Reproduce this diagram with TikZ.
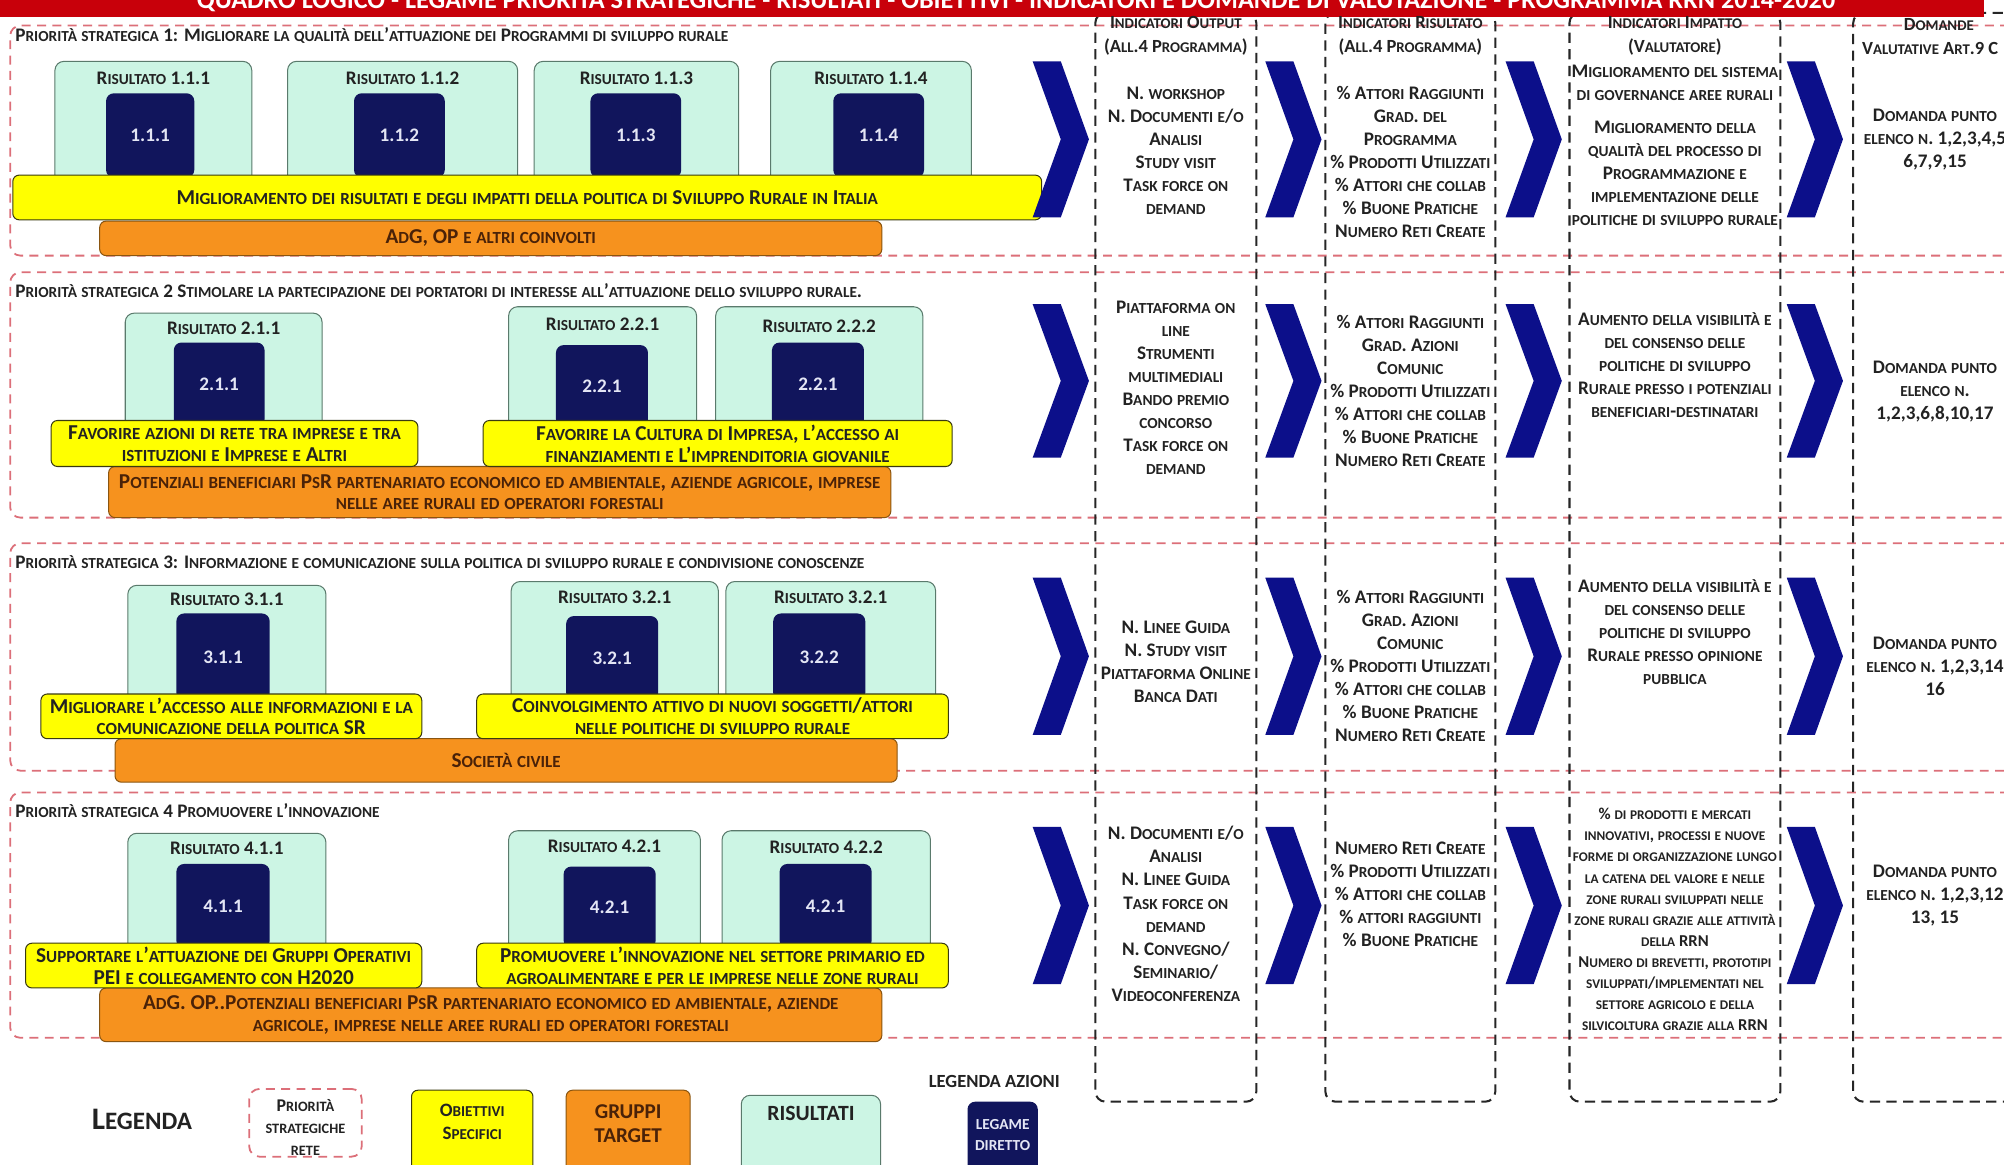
\documentclass[tikz,border=0pt]{standalone}
\usepackage{fontspec}
\setmainfont{Carlito}
\usetikzlibrary{calc}

% synthetic small capitals: capitals stay full size, lowercase letters
% are set as reduced capitals
\ExplSyntaxOn
\seq_new:N \l__fsc_words_seq
\bool_new:N \l__fsc_sep_bool
\cs_new_protected:Npn \__fsc_small:
  { \fontsize { \fp_eval:n { 0.8 * \use:c { f@size } } } { 0 } \selectfont }
\cs_new_protected:Npn \__fsc_char:N #1
  {
    \bool_lazy_or:nnTF
      { \int_compare_p:nNn { \char_value_uccode:n { `#1 } } = { 0 } }
      { \int_compare_p:nNn { \char_value_uccode:n { `#1 } } = { `#1 } }
      { #1 }
      { { \__fsc_small: \uppercase { #1 } } }
  }
\NewDocumentCommand \fsc { m }
  {
    \seq_set_split:Nnn \l__fsc_words_seq { ~ } { #1 }
    \bool_set_false:N \l__fsc_sep_bool
    \seq_map_inline:Nn \l__fsc_words_seq
      {
        \bool_if:NT \l__fsc_sep_bool { \c_space_tl }
        \bool_set_true:N \l__fsc_sep_bool
        \tl_map_function:nN { ##1 } \__fsc_char:N
      }
  }
\ExplSyntaxOff

\definecolor{bannerred}{HTML}{C8000A}
\definecolor{prioline}{HTML}{DC6F79}
\definecolor{mint}{HTML}{CCF5E4}
\definecolor{mintline}{HTML}{5A7A6C}
\definecolor{navybox}{HTML}{11155C}
\definecolor{chevblue}{HTML}{0C0F8A}
\definecolor{yel}{HTML}{FFFF00}
\definecolor{yelline}{HTML}{3A3A10}
\definecolor{org}{HTML}{F6921E}
\definecolor{orgline}{HTML}{8A5510}
\definecolor{ink}{HTML}{222222}
\definecolor{numwhite}{HTML}{E4E6F5}
\definecolor{tgtink}{HTML}{4A2208}

% rectangular node given by its corners (x1,y1) (x2,y2)
\newcommand\blk[7]{%
  \node[#1, anchor=north west, minimum width={#5pt-#3pt},
        minimum height={#6pt-#4pt}] (#2) at (#3,#4) {#7};}
% arrow chevron between columns
\newcommand\chev[3]{%
  \fill[chevblue] (#1,#2) -- ({#1+22},#2) -- ({#1+44},{(#2+#3)/2})
    -- ({#1+22},#3) -- (#1,#3) -- ({#1+22},{(#2+#3)/2}) -- cycle;}

\tikzset{
  txtbase/.style={inner sep=0pt, outer sep=0pt, text=ink, align=center,
    font=\bfseries\fontsize{15}{18}\selectfont},
  prio/.style={draw=prioline, dash pattern=on 7pt off 5pt, line width=1.4pt,
    rounded corners=8pt, inner sep=0pt, outer sep=0pt},
  colbox/.style={draw=black!85, dash pattern=on 8pt off 5pt, line width=1.6pt,
    rounded corners=8pt, inner sep=0pt, outer sep=0pt},
  res/.style={draw=mintline, fill=mint, line width=0.8pt, rounded corners=7pt,
    inner sep=0pt, outer sep=0pt},
  act/.style={txtbase, fill=navybox, rounded corners=6pt, text=numwhite},
  barfont/.style={font=\bfseries\fontsize{16.6}{17}\selectfont},
  obj/.style={txtbase, draw=yelline, fill=yel, line width=0.8pt,
    rounded corners=5pt, barfont},
  tgt/.style={txtbase, draw=orgline, fill=org, line width=0.8pt,
    rounded corners=5pt, text=tgtink, barfont},
  ptitle/.style={txtbase, anchor=west, font=\bfseries\fontsize{15}{17}\selectfont},
  reslbl/.style={txtbase, font=\bfseries\fontsize{15}{18}\selectfont},
  coltxt/.style={txtbase},
  hdrtxt/.style={txtbase, font=\bfseries\fontsize{14.5}{19}\selectfont},
  smalltxt/.style={txtbase, font=\bfseries\fontsize{13}{16.5}\selectfont},
}

\begin{document}
\begin{tikzpicture}[x=1pt,y=-1pt]
\useasboundingbox (0,0) rectangle (1568,911);
\clip (0,0) rectangle (1568,911);
\fill[white] (0,0) rectangle (1568,911);

% strategic priority frames
\blk{prio}{p1}{8}{20}{1640}{200}{}
\blk{prio}{p2}{8}{213}{1640}{405}{}
\blk{prio}{p3}{8}{425}{1640}{603}{}
\blk{prio}{p4}{8}{620}{1640}{812}{}

% indicator columns
\blk{colbox}{c1}{857}{10}{983}{862}{}
\blk{colbox}{c2}{1037}{10}{1170}{862}{}
\blk{colbox}{c3}{1228}{10}{1393}{862}{}
\blk{colbox}{c4}{1450}{10}{1640}{862}{}

% title banner
\fill[bannerred] (0,0) rectangle (1552,13);
\node[txtbase, text=white, anchor=base, font=\bfseries\fontsize{20.5}{24}\selectfont]
  (banner) at (795,7)
  {\fsc{QUADRO LOGICO - LEGAME PRIORITÀ STRATEGICHE - RISULTATI - OBIETTIVI - INDICATORI E DOMANDE DI VALUTAZIONE - PROGRAMMA RRN 2014-2020}};

% column headers
\node[hdrtxt] (h1) at (920,28)
  {\fsc{Indicatori Output}\\\fsc{(All.4 Programma)}};
\node[hdrtxt] (h2) at (1103.5,28)
  {\fsc{Indicatori Risultato}\\\fsc{(All.4 Programma)}};
\node[hdrtxt] (h3) at (1310.5,28)
  {\fsc{Indicatori Impatto}\\\fsc{(Valutatore)}};
\node[hdrtxt] (h4a) at (1517,19)
  {\fsc{Domande}};
\node[hdrtxt, anchor=west] (h4b) at (1457,38)
  {\fsc{Valutative Art.9 C}};

% ---------------- priority 1
\node[ptitle] (p1t) at (12,28)
  {\fsc{Priorità strategica 1: Migliorare la qualità dell'attuazione dei Programmi di sviluppo rurale}};
\blk{res}{r111}{43}{48}{197}{145}{}
\blk{res}{r112}{225}{48}{405}{145}{}
\blk{res}{r113}{418}{48}{578}{145}{}
\blk{res}{r114}{603}{48}{760}{145}{}
\node[reslbl] (r111l) at (120,61) {\fsc{Risultato 1.1.1}};
\node[reslbl] (r112l) at (315,61) {\fsc{Risultato 1.1.2}};
\node[reslbl] (r113l) at (498,61) {\fsc{Risultato 1.1.3}};
\node[reslbl] (r114l) at (681.5,61) {\fsc{Risultato 1.1.4}};
\blk{act}{a111}{83}{73}{152}{139}{1.1.1}
\blk{act}{a112}{277}{73}{348}{139}{1.1.2}
\blk{act}{a113}{462}{73}{533}{139}{1.1.3}
\blk{act}{a114}{652}{73}{723}{139}{1.1.4}
\blk{tgt}{t1}{78}{173}{690}{200}{\fsc{AdG, OP e altri coinvolti}}
\blk{obj}{o1}{10}{137}{815}{172}
  {\fsc{Miglioramento dei risultati e degli impatti della politica di Sviluppo Rurale in Italia}}

% ---------------- priority 2
\node[ptitle] (p2t) at (12,227)
  {\fsc{Priorità strategica 2 Stimolare la partecipazione dei portatori di interesse all'attuazione dello sviluppo rurale.}};
\blk{res}{r211}{98}{245}{252}{338}{}
\blk{res}{r221}{398}{240}{545}{338}{}
\blk{res}{r222}{560}{240}{722}{338}{}
\node[reslbl] (r211l) at (175,257) {\fsc{Risultato 2.1.1}};
\node[reslbl] (r221l) at (471.5,254) {\fsc{Risultato 2.2.1}};
\node[reslbl] (r222l) at (641,255) {\fsc{Risultato 2.2.2}};
\blk{act}{a211}{136}{268}{207}{334}{2.1.1}
\blk{act}{a221}{435}{270}{507}{334}{2.2.1}
\blk{act}{a222}{604}{268}{676}{334}{2.2.1}
\blk{tgt}{t2}{85}{365}{697}{405}
  {\fsc{Potenziali beneficiari PsR partenariato economico ed ambientale, aziende agricole, imprese}\\\fsc{nelle aree rurali ed operatori forestali}}
\blk{obj}{o21}{40}{329}{327}{365}
  {\fsc{Favorire azioni di rete tra imprese e tra}\\\fsc{istituzioni e Imprese e Altri}}
\blk{obj}{o22}{378}{329}{745}{365}
  {\fsc{Favorire la Cultura di Impresa, l'accesso ai}\\\fsc{finanziamenti e L'imprenditoria giovanile}}

% ---------------- priority 3
\node[ptitle] (p3t) at (12,440)
  {\fsc{Priorità strategica 3: Informazione e comunicazione sulla politica di sviluppo rurale e condivisione conoscenze}};
\blk{res}{r311}{100}{458}{255}{550}{}
\blk{res}{r321}{400}{455}{562}{550}{}
\blk{res}{r322}{568}{455}{732}{550}{}
\node[reslbl] (r311l) at (177.5,469) {\fsc{Risultato 3.1.1}};
\node[reslbl] (r321l) at (481,467) {\fsc{Risultato 3.2.1}};
\node[reslbl] (r322l) at (650,467) {\fsc{Risultato 3.2.1}};
\blk{act}{a311}{138}{480}{211}{548}{3.1.1}
\blk{act}{a321}{443}{482}{515}{548}{3.2.1}
\blk{act}{a322}{605}{480}{677}{548}{3.2.2}
\blk{tgt}{t3}{90}{578}{702}{612}{\fsc{Società civile}}
\blk{obj}{o31}{32}{543}{330}{578}
  {\fsc{Migliorare l'accesso alle informazioni e la}\\\fsc{comunicazione della politica SR}}
\blk{obj}{o32}{373}{543}{742}{578}
  {\fsc{Coinvolgimento attivo di nuovi soggetti/attori}\\\fsc{nelle politiche di sviluppo rurale}}

% ---------------- priority 4
\node[ptitle] (p4t) at (12,634)
  {\fsc{Priorità strategica 4 Promuovere l'innovazione}};
\blk{res}{r411}{100}{652}{255}{745}{}
\blk{res}{r421}{398}{650}{548}{745}{}
\blk{res}{r422}{565}{650}{728}{745}{}
\node[reslbl] (r411l) at (177.5,664) {\fsc{Risultato 4.1.1}};
\node[reslbl] (r421l) at (473,662) {\fsc{Risultato 4.2.1}};
\node[reslbl] (r422l) at (646.5,663) {\fsc{Risultato 4.2.2}};
\blk{act}{a411}{138}{676}{211}{742}{4.1.1}
\blk{act}{a421}{441}{678}{513}{742}{4.2.1}
\blk{act}{a422}{610}{676}{682}{742}{4.2.1}
\blk{tgt}{t4}{78}{773}{690}{815}
  {\fsc{AdG. OP..Potenziali beneficiari PsR partenariato economico ed ambientale, aziende}\\\fsc{agricole, imprese nelle aree rurali ed operatori forestali}}
\blk{obj}{o41}{20}{738}{330}{773}
  {\fsc{Supportare l'attuazione dei Gruppi Operativi}\\\fsc{PEI e collegamento con H2020}}
\blk{obj}{o42}{373}{738}{742}{773}
  {\fsc{Promuovere l'innovazione nel settore primario ed}\\\fsc{agroalimentare e per le imprese nelle zone rurali}}

% chevrons
\foreach \cx in {808,990,1178,1398}{
  \chev{\cx}{48}{170}
  \chev{\cx}{238}{358}
  \chev{\cx}{452}{575}
  \chev{\cx}{647}{770}
}

% ---------------- indicator texts, row 1
\node[coltxt] (out1) at (920,118)
  {\fsc{N. workshop}\\\fsc{N. Documenti e/o}\\\fsc{Analisi}\\\fsc{Study visit}\\\fsc{Task force on}\\\fsc{demand}};
\node[coltxt] (ris1) at (1103.5,127)
  {\fsc{\% Attori Raggiunti}\\\fsc{Grad. del}\\\fsc{Programma}\\\fsc{\% Prodotti Utilizzati}\\\fsc{\% Attori che collab}\\\fsc{\% Buone Pratiche}\\\fsc{Numero Reti Create}};
\node[coltxt] (imp1) at (1310.5,114)
  {\fsc{Miglioramento del sistema}\\\fsc{di governance aree rurali}\\[8pt]\fsc{Miglioramento della}\\\fsc{qualità del processo di}\\\fsc{Programmazione e}\\\fsc{implementazione delle}\\\fsc{politiche di sviluppo rurale}};
\node[coltxt] (dom1) at (1514,109)
  {\fsc{Domanda punto}\\\fsc{elenco n. 1,2,3,4,5}\\\fsc{6,7,9,15}};

% row 2
\node[coltxt] (out2) at (920,303.5)
  {\fsc{Piattaforma on}\\\fsc{line}\\\fsc{Strumenti}\\\fsc{multimediali}\\\fsc{Bando premio}\\\fsc{concorso}\\\fsc{Task force on}\\\fsc{demand}};
\node[coltxt] (ris2) at (1103.5,306)
  {\fsc{\% Attori Raggiunti}\\\fsc{Grad. Azioni}\\\fsc{Comunic}\\\fsc{\% Prodotti Utilizzati}\\\fsc{\% Attori che collab}\\\fsc{\% Buone Pratiche}\\\fsc{Numero Reti Create}};
\node[coltxt] (imp2) at (1310.5,285.5)
  {\fsc{Aumento della visibilità e}\\\fsc{del consenso delle}\\\fsc{politiche di sviluppo}\\\fsc{Rurale presso i potenziali}\\\fsc{beneficiari-destinatari}};
\node[coltxt] (dom2) at (1514,306)
  {\fsc{Domanda punto}\\\fsc{elenco n.}\\\fsc{1,2,3,6,8,10,17}};

% row 3
\node[coltxt] (out3) at (920,518)
  {\fsc{N. Linee Guida}\\\fsc{N. Study visit}\\\fsc{Piattaforma Online}\\\fsc{Banca Dati}};
\node[coltxt] (ris3) at (1103.5,521)
  {\fsc{\% Attori Raggiunti}\\\fsc{Grad. Azioni}\\\fsc{Comunic}\\\fsc{\% Prodotti Utilizzati}\\\fsc{\% Attori che collab}\\\fsc{\% Buone Pratiche}\\\fsc{Numero Reti Create}};
\node[coltxt] (imp3) at (1310.5,494.5)
  {\fsc{Aumento della visibilità e}\\\fsc{del consenso delle}\\\fsc{politiche di sviluppo}\\\fsc{Rurale presso opinione}\\\fsc{pubblica}};
\node[coltxt] (dom3) at (1514,521)
  {\fsc{Domanda punto}\\\fsc{elenco n. 1,2,3,14}\\\fsc{16}};

% row 4
\node[coltxt] (out4) at (920,715)
  {\fsc{N. Documenti e/o}\\\fsc{Analisi}\\\fsc{N. Linee Guida}\\\fsc{Task force on}\\\fsc{demand}\\\fsc{N. Convegno/}\\\fsc{Seminario/}\\\fsc{Videoconferenza}};
\node[coltxt] (ris4) at (1103.5,699.5)
  {\fsc{Numero Reti Create}\\\fsc{\% Prodotti Utilizzati}\\\fsc{\% Attori che collab}\\\fsc{\% attori raggiunti}\\\fsc{\% Buone Pratiche}};
\node[smalltxt] (imp4) at (1310.5,719.5)
  {\fsc{\% di prodotti e mercati}\\\fsc{innovativi, processi e nuove}\\\fsc{forme di organizzazione lungo}\\\fsc{la catena del valore e nelle}\\\fsc{zone rurali sviluppati nelle}\\\fsc{zone rurali grazie alle attività}\\\fsc{della RRN}\\\fsc{Numero di brevetti, prototipi}\\\fsc{sviluppati/implementati nel}\\\fsc{settore agricolo e della}\\\fsc{silvicoltura grazie alla RRN}};
\node[coltxt] (dom4) at (1514,701)
  {\fsc{Domanda punto}\\\fsc{elenco n. 1,2,3,12}\\\fsc{13, 15}};

% ---------------- legend
\node[txtbase, font=\bfseries\fontsize{24.5}{28}\selectfont] (leg) at (111,876) {\fsc{Legenda}};
\blk{prio}{lgp}{195}{852}{283}{905}{}
\node[txtbase, font=\bfseries\fontsize{14}{17}\selectfont] (lgpt) at (239,882)
  {\fsc{Priorità}\\\fsc{strategiche}\\\fsc{rete}};
\blk{obj}{lgo}{322}{853}{417}{930}{}
\node[txtbase, font=\bfseries\fontsize{14.8}{18}\selectfont] (lgot) at (369.5,878)
  {\fsc{Obiettivi}\\\fsc{Specifici}};
\blk{tgt}{lgt}{443}{853}{540}{930}{}
\node[txtbase, text=tgtink, font=\bfseries\fontsize{16.5}{19}\selectfont] (lgtt) at (491.5,879)
  {GRUPPI\\TARGET};
\blk{res}{lgr}{580}{857}{689}{930}{}
\node[txtbase, font=\bfseries\fontsize{17}{19}\selectfont] (lgrt) at (634.5,871) {RISULTATI};
\node[txtbase, font=\bfseries\fontsize{14.5}{16}\selectfont] (lga0) at (778,846) {LEGENDA AZIONI};
\blk{act}{lga}{757}{862}{812}{930}{}
\node[txtbase, text=numwhite, font=\bfseries\fontsize{12}{16}\selectfont] (lgat) at (784.5,888)
  {LEGAME\\DIRETTO};
\end{tikzpicture}
\end{document}
